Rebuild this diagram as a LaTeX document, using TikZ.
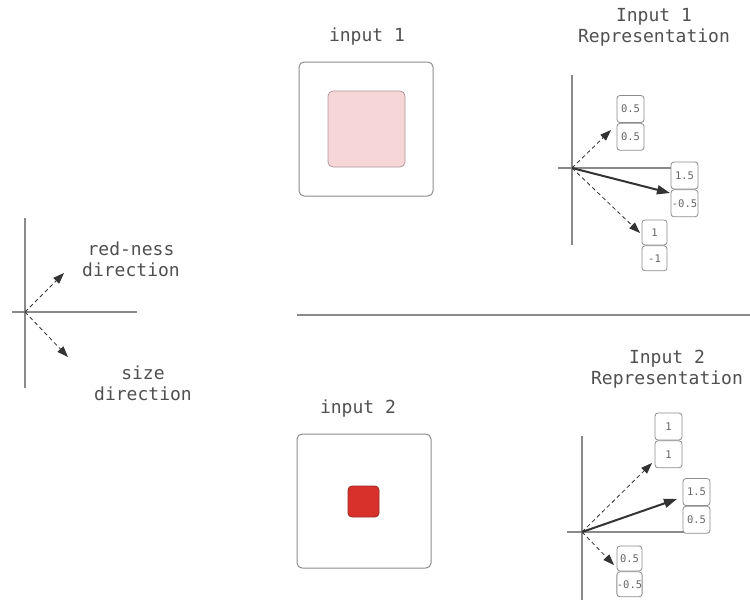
\documentclass[tikz,border=0pt]{standalone}
\usepackage{fontspec}
\setmonofont{DejaVu Sans Mono}
\usetikzlibrary{arrows.meta}
\definecolor{txt}{HTML}{505050}
\definecolor{valtxt}{HTML}{666666}
\definecolor{axisgray}{HTML}{8A8A8A}
\definecolor{boxgray}{HTML}{8C8C8C}
\definecolor{arrowc}{HTML}{333333}
\definecolor{pinkfill}{HTML}{F7D6D8}
\definecolor{pinkdraw}{HTML}{B0979A}
\definecolor{redfill}{HTML}{D8302A}
\definecolor{reddraw}{HTML}{9A2A22}
\begin{document}
\begin{tikzpicture}[x=1pt,y=-1pt,
  lbl/.style={font=\ttfamily\fontsize{18}{21}\selectfont, text=txt, align=center, inner sep=0pt},
  axisline/.style={draw=axisgray, line width=1.1pt},
  valbox/.style={draw=boxgray, fill=white, rounded corners=3pt, line width=0.8pt, minimum width=27pt, minimum height=27pt, inner sep=0pt, font=\ttfamily\fontsize{10.5}{11}\selectfont, text=valtxt},
  smallbox/.style={valbox, minimum width=25pt, minimum height=25pt},
  outerbox/.style={draw=boxgray, rounded corners=5pt, line width=1pt, minimum width=134pt, minimum height=134pt, inner sep=0pt},
  dasharrow/.style={draw=arrowc, line width=0.8pt, dash pattern=on 4pt off 3pt, -{Triangle[length=11pt,width=8pt]}},
  mainarrow/.style={draw=arrowc, line width=2pt, -{Triangle[length=13pt,width=9pt]}}
]
\useasboundingbox (0,0) rectangle (750,600);

% left legend
\draw[axisline] (25,218) -- (25,388);
\draw[axisline] (12,312) -- (137,312);
\coordinate (o0) at (25,312);
\coordinate (t0a) at (64,273);
\coordinate (t0b) at (68,357);
\draw[dasharrow] (o0) -- (t0a);
\draw[dasharrow] (o0) -- (t0b);
\node[lbl] (redness) at (131,259) {red-ness\\direction};
\node[lbl] (sizedir) at (143,383) {size\\direction};

% divider
\draw[axisline] (297,315) -- (750,315);

% input 1
\node[lbl] (in1lbl) at (367,37) {input 1};
\node[outerbox] (in1) at (366,129) {};
\node[draw=pinkdraw, fill=pinkfill, rounded corners=5pt, line width=0.8pt, minimum width=77pt, minimum height=76pt, inner sep=0pt] (pink) at (366.5,129) {};

% input 2
\node[lbl] (in2lbl) at (358,409) {input 2};
\node[outerbox] (in2) at (364,501) {};
\node[draw=reddraw, fill=redfill, rounded corners=4pt, line width=0.8pt, minimum width=31pt, minimum height=31pt, inner sep=0pt] (red) at (363.5,501.5) {};

% representation 1
\node[lbl] (rep1lbl) at (654,27) {Input 1\\Representation};
\draw[axisline] (572,75) -- (572,245);
\draw[axisline] (558,168) -- (676,168);
\coordinate (o1) at (572,168);
\node[valbox] (b1a) at (630.5,109) {0.5};
\node[valbox, anchor=north] (b1b) at (b1a.south) {0.5};
\node[valbox] (b1c) at (684.5,175.5) {1.5};
\node[valbox, anchor=north] (b1d) at (b1c.south) {-0.5};
\node[smallbox] (b1e) at (654.5,232.5) {1};
\node[smallbox, anchor=north] (b1f) at (b1e.south) {-1};
\coordinate (t1a) at (611,130);
\coordinate (t1b) at (670,193);
\coordinate (t1c) at (640,233);
\draw[dasharrow] (o1) -- (t1a);
\draw[mainarrow] (o1) -- (t1b);
\draw[dasharrow] (o1) -- (t1c);

% representation 2
\node[lbl] (rep2lbl) at (667,369) {Input 2\\Representation};
\draw[axisline] (582,436) -- (582,600);
\draw[axisline] (567,532) -- (688,532);
\coordinate (o2) at (582,532);
\node[valbox] (b2a) at (668.5,426.5) {1};
\node[valbox, anchor=north] (b2b) at (b2a.south) {1};
\node[valbox] (b2c) at (696.5,492) {1.5};
\node[valbox, anchor=north] (b2d) at (b2c.south) {0.5};
\node[smallbox] (b2e) at (629.5,558.5) {0.5};
\node[smallbox, anchor=north] (b2f) at (b2e.south) {-0.5};
\coordinate (t2a) at (652,463);
\coordinate (t2b) at (677,499);
\coordinate (t2c) at (614,565);
\draw[dasharrow] (o2) -- (t2a);
\draw[mainarrow] (o2) -- (t2b);
\draw[dasharrow] (o2) -- (t2c);
\end{tikzpicture}
\end{document}
